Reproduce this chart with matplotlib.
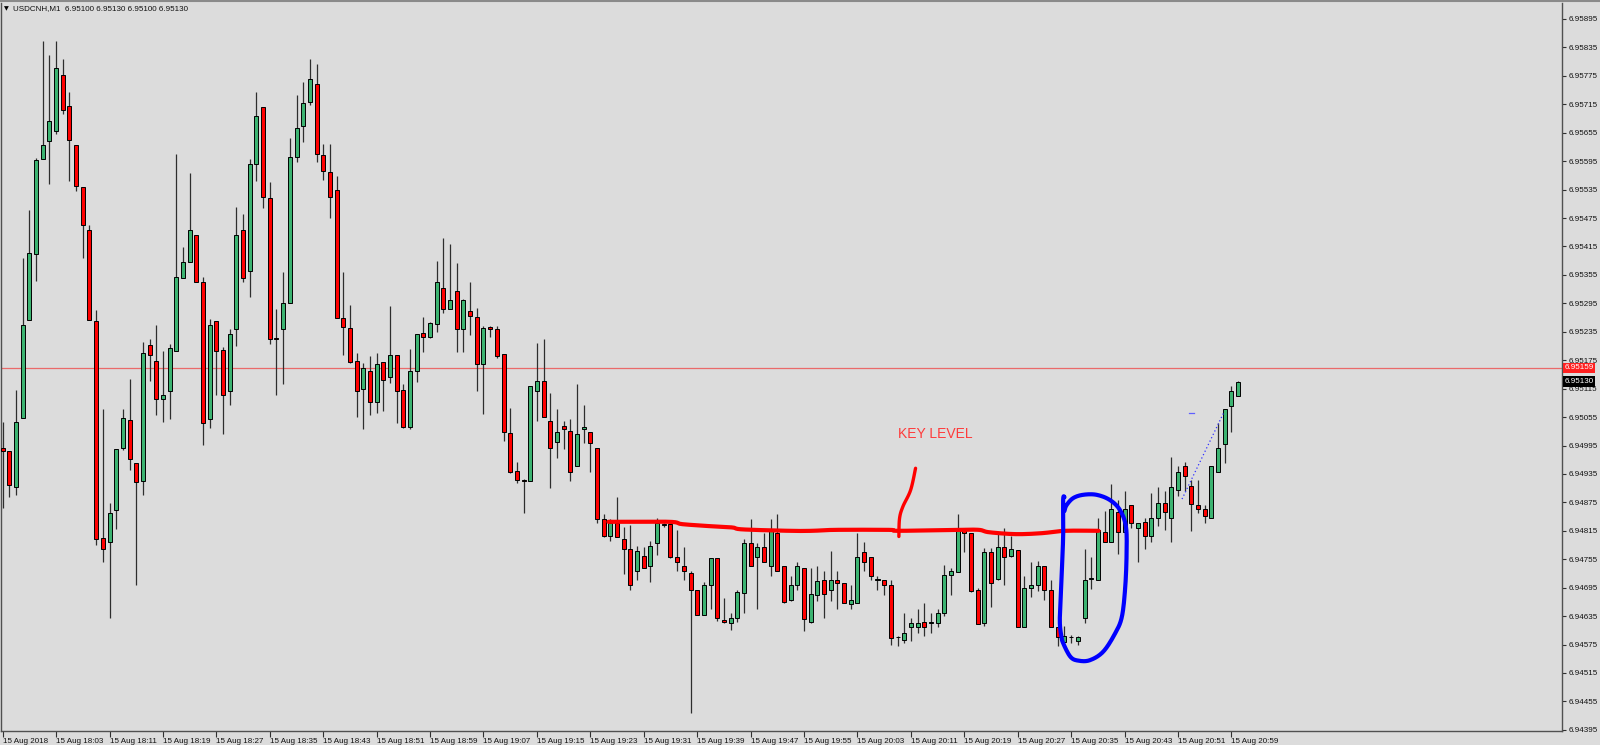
import matplotlib
matplotlib.use("Agg")
import matplotlib.pyplot as plt
import matplotlib.transforms as mtrans
import numpy as np

plt.rcParams['font.family'] = ['Liberation Sans', 'DejaVu Sans']

# USDCNH M1, one candle per minute starting 17:55
opens = [6.94990, 6.94984, 6.94907, 6.95052, 6.95260, 6.95400, 6.95600, 6.95638, 6.95658, 6.95777,
         6.95711, 6.95630, 6.95541, 6.95450, 6.95258, 6.94800, 6.94792, 6.94859, 6.94990, 6.95048,
         6.94958, 6.94921, 6.95207, 6.95174, 6.95094, 6.95111, 6.95195, 6.95349, 6.95383, 6.95439,
         6.95339, 6.95050, 6.95258, 6.95196, 6.95111, 6.95240, 6.95450, 6.95363, 6.95589, 6.95709,
         6.95517, 6.95222, 6.95241, 6.95295, 6.95603, 6.95670, 6.95719, 6.95757, 6.95608, 6.95572,
         6.95534, 6.95265, 6.95242, 6.95173, 6.95114, 6.95152, 6.95086, 6.95171, 6.95139, 6.95185,
         6.95112, 6.95035, 6.95153, 6.95232, 6.95223, 6.95252, 6.95327, 6.95283, 6.95320, 6.95240,
         6.95278, 6.95267, 6.95166, 6.95246, 6.95240, 6.95188, 6.95021, 6.94941, 6.94922, 6.94921,
         6.95109, 6.95131, 6.95047, 6.95003, 6.95036, 6.95026, 6.94951, 6.95030, 6.95024, 6.94990,
         6.94840, 6.94804, 6.94831, 6.94797, 6.94777, 6.94730, 6.94762, 6.94741, 6.94789, 6.94827,
         6.94829, 6.94760, 6.94741, 6.94725, 6.94690, 6.94637, 6.94701, 6.94757, 6.94627, 6.94620,
         6.94630, 6.94683, 6.94790, 6.94760, 6.94780, 6.94741, 6.94810, 6.94741, 6.94670, 6.94701,
         6.94736, 6.94623, 6.94680, 6.94711, 6.94690, 6.94711, 6.94704, 6.94661, 6.94663, 6.94771,
         6.94760, 6.94711, 6.94711, 6.94701, 6.94590, 6.94585, 6.94611, 6.94611, 6.94623, 6.94621,
         6.94621, 6.94641, 6.94722, 6.94729, 6.94820, 6.94810, 6.94690, 6.94620, 6.94770, 6.94713,
         6.94780, 6.94762, 6.94775, 6.94611, 6.94694, 6.94701, 6.94741, 6.94690, 6.94611, 6.94581,
         6.94590, 6.94583, 6.94630, 6.94713, 6.94711, 6.94812, 6.94792, 6.94855, 6.94812, 6.94869,
         6.94820, 6.94833, 6.94805, 6.94841, 6.94873, 6.94841, 6.94901, 6.94952, 6.94910, 6.94869,
         6.94862, 6.94841, 6.94940, 6.94999, 6.95079, 6.95100]
highs = [6.95044, 6.94984, 6.95113, 6.95390, 6.95492, 6.95601, 6.95849, 6.95820, 6.95849, 6.95811,
         6.95740, 6.95630, 6.95541, 6.95460, 6.95281, 6.95073, 6.94873, 6.94988, 6.95073, 6.95136,
         6.94958, 6.95214, 6.95220, 6.95250, 6.95195, 6.95210, 6.95610, 6.95414, 6.95571, 6.95439,
         6.95351, 6.95261, 6.95258, 6.95202, 6.95240, 6.95499, 6.95483, 6.95600, 6.95740, 6.95709,
         6.95551, 6.95284, 6.95362, 6.95643, 6.95735, 6.95761, 6.95811, 6.95799, 6.95631, 6.95631,
         6.95563, 6.95362, 6.95292, 6.95190, 6.95169, 6.95183, 6.95190, 6.95171, 6.95290, 6.95185,
         6.95124, 6.95198, 6.95230, 6.95267, 6.95256, 6.95385, 6.95432, 6.95420, 6.95380, 6.95304,
         6.95339, 6.95286, 6.95247, 6.95247, 6.95247, 6.95188, 6.95075, 6.94960, 6.94924, 6.95121,
         6.95211, 6.95219, 6.95105, 6.95072, 6.95046, 6.95050, 6.95125, 6.95081, 6.95024, 6.94990,
         6.94850, 6.94840, 6.94887, 6.94824, 6.94827, 6.94782, 6.94780, 6.94794, 6.94841, 6.94831,
         6.94829, 6.94817, 6.94780, 6.94731, 6.94690, 6.94708, 6.94757, 6.94757, 6.94674, 6.94641,
         6.94690, 6.94797, 6.94840, 6.94790, 6.94810, 6.94840, 6.94850, 6.94741, 6.94720, 6.94750,
         6.94736, 6.94737, 6.94741, 6.94731, 6.94772, 6.94731, 6.94704, 6.94701, 6.94811, 6.94791,
         6.94760, 6.94720, 6.94711, 6.94711, 6.94592, 6.94641, 6.94630, 6.94651, 6.94663, 6.94641,
         6.94651, 6.94743, 6.94736, 6.94850, 6.94820, 6.94810, 6.94694, 6.94778, 6.94778, 6.94810,
         6.94820, 6.94804, 6.94775, 6.94720, 6.94750, 6.94752, 6.94741, 6.94711, 6.94611, 6.94614,
         6.94595, 6.94593, 6.94776, 6.94760, 6.94841, 6.94857, 6.94913, 6.94881, 6.94900, 6.94869,
         6.94831, 6.94841, 6.94894, 6.94907, 6.94900, 6.94971, 6.94952, 6.94960, 6.94922, 6.94922,
         6.94869, 6.94952, 6.95042, 6.95071, 6.95121, 6.95131]
lows = [6.94863, 6.94887, 6.94891, 6.95052, 6.95260, 6.95343, 6.95600, 6.95547, 6.95652, 6.95694,
        6.95553, 6.95533, 6.95390, 6.95260, 6.94786, 6.94750, 6.94632, 6.94818, 6.94986, 6.94943,
        6.94701, 6.94891, 6.95131, 6.95059, 6.95044, 6.95051, 6.95195, 6.95349, 6.95383, 6.95339,
        6.94996, 6.95032, 6.95101, 6.95020, 6.95081, 6.95204, 6.95341, 6.95309, 6.95553, 6.95497,
        6.95210, 6.95101, 6.95125, 6.95295, 6.95593, 6.95636, 6.95713, 6.95593, 6.95555, 6.95475,
        6.95265, 6.95185, 6.95169, 6.95056, 6.95030, 6.95060, 6.95064, 6.95067, 6.95126, 6.95042,
        6.95031, 6.95029, 6.95130, 6.95192, 6.95221, 6.95235, 6.95275, 6.95283, 6.95192, 6.95192,
        6.95228, 6.95109, 6.95061, 6.95223, 6.95179, 6.95005, 6.94936, 6.94915, 6.94853, 6.94921,
        6.95047, 6.95056, 6.94906, 6.94968, 6.94987, 6.94920, 6.94951, 6.95001, 6.94940, 6.94831,
        6.94801, 6.94794, 6.94801, 6.94723, 6.94690, 6.94711, 6.94736, 6.94706, 6.94763, 6.94824,
        6.94757, 6.94731, 6.94711, 6.94430, 6.94637, 6.94637, 6.94651, 6.94625, 6.94621, 6.94606,
        6.94623, 6.94641, 6.94741, 6.94651, 6.94750, 6.94720, 6.94731, 6.94662, 6.94666, 6.94690,
        6.94604, 6.94620, 6.94666, 6.94632, 6.94666, 6.94651, 6.94662, 6.94651, 6.94663, 6.94731,
        6.94711, 6.94690, 6.94680, 6.94574, 6.94571, 6.94578, 6.94583, 6.94599, 6.94593, 6.94600,
        6.94611, 6.94635, 6.94680, 6.94729, 6.94771, 6.94685, 6.94618, 6.94614, 6.94655, 6.94711,
        6.94701, 6.94760, 6.94611, 6.94611, 6.94676, 6.94688, 6.94670, 6.94611, 6.94571, 6.94574,
        6.94579, 6.94574, 6.94620, 6.94692, 6.94711, 6.94792, 6.94792, 6.94766, 6.94812, 6.94820,
        6.94750, 6.94776, 6.94791, 6.94825, 6.94817, 6.94791, 6.94888, 6.94900, 6.94815, 6.94852,
        6.94831, 6.94841, 6.94940, 6.94959, 6.95024, 6.95100]
closes = [6.94984, 6.94911, 6.95044, 6.95249, 6.95402, 6.95597, 6.95630, 6.95680, 6.95791, 6.95702,
          6.95639, 6.95543, 6.95460, 6.95260, 6.94798, 6.94776, 6.94852, 6.94988, 6.95052, 6.94966,
          6.94917, 6.95190, 6.95186, 6.95094, 6.95101, 6.95200, 6.95350, 6.95383, 6.95450, 6.95339,
          6.95042, 6.95249, 6.95194, 6.95102, 6.95230, 6.95440, 6.95349, 6.95589, 6.95690, 6.95519,
          6.95220, 6.95220, 6.95295, 6.95603, 6.95664, 6.95717, 6.95769, 6.95610, 6.95575, 6.95519,
          6.95265, 6.95245, 6.95172, 6.95111, 6.95159, 6.95086, 6.95166, 6.95134, 6.95185, 6.95111,
          6.95034, 6.95152, 6.95230, 6.95223, 6.95254, 6.95339, 6.95283, 6.95301, 6.95240, 6.95302,
          6.95269, 6.95166, 6.95242, 6.95240, 6.95183, 6.95024, 6.94940, 6.94922, 6.94921, 6.95121,
          6.95132, 6.95056, 6.94989, 6.95024, 6.95030, 6.94940, 6.95019, 6.95034, 6.95000, 6.94839,
          6.94804, 6.94831, 6.94801, 6.94776, 6.94701, 6.94772, 6.94736, 6.94784, 6.94831, 6.94827,
          6.94760, 6.94750, 6.94731, 6.94690, 6.94637, 6.94701, 6.94757, 6.94630, 6.94623, 6.94630,
          6.94685, 6.94789, 6.94741, 6.94780, 6.94750, 6.94818, 6.94731, 6.94664, 6.94701, 6.94741,
          6.94628, 6.94681, 6.94709, 6.94682, 6.94711, 6.94704, 6.94663, 6.94670, 6.94760, 6.94750,
          6.94720, 6.94712, 6.94701, 6.94588, 6.94590, 6.94600, 6.94621, 6.94621, 6.94611, 6.94622,
          6.94641, 6.94722, 6.94731, 6.94820, 6.94810, 6.94688, 6.94618, 6.94770, 6.94704, 6.94780,
          6.94759, 6.94776, 6.94611, 6.94694, 6.94701, 6.94741, 6.94690, 6.94611, 6.94590, 6.94592,
          6.94591, 6.94590, 6.94711, 6.94714, 6.94817, 6.94792, 6.94861, 6.94812, 6.94861, 6.94831,
          6.94831, 6.94805, 6.94841, 6.94873, 6.94854, 6.94908, 6.94940, 6.94931, 6.94871, 6.94862,
          6.94846, 6.94952, 6.94989, 6.95071, 6.95111, 6.95130]

start_label = "15 Aug 2018"
tick_times = ["18:03", "18:11", "18:19", "18:27", "18:35", "18:43", "18:51", "18:59", "19:07", "19:15",
              "19:23", "19:31", "19:39", "19:47", "19:55", "20:03", "20:11", "20:19", "20:27", "20:35",
              "20:43", "20:51", "20:59"]
yticks = [6.94395, 6.94455, 6.94515, 6.94575, 6.94635, 6.94695, 6.94755, 6.94815, 6.94875, 6.94935,
          6.94995, 6.95055, 6.95115, 6.95175, 6.95235, 6.95295, 6.95355, 6.95415, 6.95475, 6.95535,
          6.95595, 6.95655, 6.95715, 6.95775, 6.95835, 6.95895]
line_price = 6.95159
last_price = 6.95130

# hand drawn marks (minute index, price)
key_x = [90.7, 99.8, 101.8, 106.8, 109.3, 110.8, 117.8, 121.2, 124.7, 132.7, 134.2, 143.2, 146.2,
         147.7, 151.7, 155.6, 159.1, 164.1]
key_y = [6.94834, 6.94834, 6.94829, 6.94824, 6.94822, 6.94818, 6.94815, 6.94815, 6.94817, 6.94817,
         6.94815, 6.94817, 6.94817, 6.94812, 6.94808, 6.94810, 6.94815, 6.94815]
tick_x = [134.2, 134.3, 134.8, 135.96, 136.7]
tick_y = [6.94803, 6.94841, 6.94866, 6.94901, 6.94947]
loop_x = [159.0, 158.8, 158.8, 158.5, 158.3, 158.5, 158.8, 159.9, 161.1, 162.8, 164.8, 166.6, 167.6,
          168.1, 168.3, 168.2, 167.3, 165.8, 163.8, 161.8, 160.3, 159.3, 159.0]
loop_y = [6.94886, 6.94880, 6.94803, 6.94697, 6.94627, 6.94595, 6.94578, 6.94549, 6.94541, 6.94542,
          6.94560, 6.94599, 6.94634, 6.94697, 6.94768, 6.94824, 6.94859, 6.94880, 6.94891, 6.94891,
          6.94884, 6.94869, 6.94857]


def smooth(px, py, n=12):
    # Catmull-Rom through the drawn points
    p = np.column_stack([px, py])
    p = np.vstack([p[0], p, p[-1]])
    out = []
    for k in range(1, len(p) - 2):
        p0, p1, p2, p3 = p[k - 1], p[k], p[k + 1], p[k + 2]
        for t in np.linspace(0, 1, n, endpoint=False):
            out.append(0.5 * ((2 * p1) + (-p0 + p2) * t + (2 * p0 - 5 * p1 + 4 * p2 - p3) * t ** 2
                              + (-p0 + 3 * p1 - 3 * p2 + p3) * t ** 3))
    out.append(p[-2])
    out = np.array(out)
    return out[:, 0], out[:, 1]


o = np.array(opens); h = np.array(highs); l = np.array(lows); c = np.array(closes)
x = np.arange(len(o))
up = c >= o

fig = plt.figure(figsize=(16, 7.45), dpi=100, facecolor="#dcdcdc")
ax = fig.add_axes([1 / 1600, 14 / 745, 1561 / 1600, 728 / 745])
ax.set_facecolor("#dcdcdc")

ax.axhline(line_price, color="#ea6a6a", lw=0.9, zorder=1)

ax.vlines(x, l, h, color="#2e2e2e", lw=0.9, zorder=2)
bottom = np.minimum(o, c)
height = np.maximum(np.abs(c - o), 0.000015)
ax.bar(x[up], height[up], bottom=bottom[up], width=0.6, color="#3cb371",
       edgecolor="black", lw=0.7, zorder=3)
ax.bar(x[~up], height[~up], bottom=bottom[~up], width=0.6, color="#ff0000",
       edgecolor="black", lw=0.7, zorder=3)

# hand drawings
kx, ky = smooth(key_x, key_y)
ax.plot(kx, ky, color="#ff0000", lw=3, solid_capstyle="round", solid_joinstyle="round", zorder=5)
tx, ty = smooth(tick_x, tick_y)
ax.plot(tx, ty, color="#ff0000", lw=2.4, solid_capstyle="round", zorder=5)
lx, ly = smooth(loop_x, loop_y)
ax.plot(lx, ly, color="#0000ff", lw=3, solid_capstyle="round", solid_joinstyle="round", zorder=5)
ax.plot([176.6, 182.8], [6.94882, 6.95063], color="#3030ff", lw=0.9, ls=(0, (1, 2)), zorder=5)
ax.plot([177.6, 178.4], [6.95064, 6.95064], color="#6060ff", lw=0.9, zorder=5)
ax.text(139.7, 6.95019, "KEY LEVEL", color="#ff3b3b", fontsize=10, ha="center", va="center", zorder=6)

ax.set_xlim(-0.25, 233.5)
ax.set_ylim(6.943926, 6.959287)

# x axis
xt = [0] + [8 * (k + 1) for k in range(len(tick_times))]
xl = [start_label] + ["15 Aug " + t for t in tick_times]
ax.set_xticks(xt)
ax.set_xticklabels(xl, fontsize=5.8, color="#111111")
off = mtrans.ScaledTranslation(2 / 100, 0, fig.dpi_scale_trans)
for lbl in ax.get_xticklabels():
    lbl.set_ha("left")
    lbl.set_transform(lbl.get_transform() + off)
ax.tick_params(axis="x", direction="out", length=4, width=0.8, color="#303030", pad=1)

# y axis
ax.yaxis.tick_right()
ax.set_yticks(yticks)
ax.set_yticklabels(["%.5f" % v for v in yticks], fontsize=5.8, color="#111111")
ax.tick_params(axis="y", direction="out", length=3, width=0.8, color="#303030", pad=2)

for s in ["left", "bottom", "right"]:
    ax.spines[s].set_color("#505050")
    ax.spines[s].set_linewidth(1)
ax.spines["top"].set_visible(False)

blend = mtrans.blended_transform_factory(ax.transAxes, ax.transData)
ax.text(1.0015, line_price, "6.95159", transform=blend, fontsize=5.8, color="white",
        ha="left", va="center", clip_on=False, zorder=10,
        bbox=dict(boxstyle="square,pad=0.2", fc="#ff2020", ec="none"))
ax.text(1.0015, last_price, "6.95130", transform=blend, fontsize=5.8, color="white",
        ha="left", va="center", clip_on=False, zorder=10,
        bbox=dict(boxstyle="square,pad=0.2", fc="black", ec="none"))

fig.text(4 / 1600, 1 - 8.5 / 745, "▼", fontsize=4.5, color="black", ha="left", va="center",
         family="DejaVu Sans")
fig.text(13 / 1600, 1 - 8.5 / 745, "USDCNH,M1  6.95100 6.95130 6.95100 6.95130", fontsize=5.8,
         color="#111111", ha="left", va="center")
fig.add_artist(plt.Line2D([0, 1], [1 - 1 / 745, 1 - 1 / 745], color="#8a8a8a", lw=1.5))

fig.savefig("out.png", dpi=100, facecolor=fig.get_facecolor())
